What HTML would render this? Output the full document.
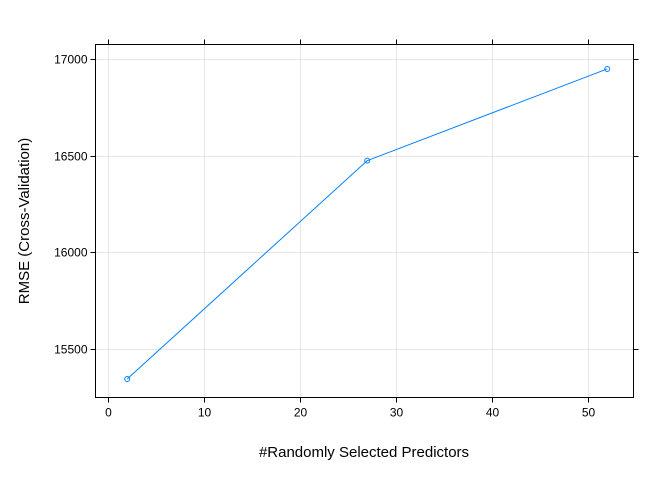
<!DOCTYPE html>
<html><head><meta charset="utf-8"><style>
body{margin:0;background:#fff}
svg{display:block;font-family:"Liberation Sans",Arial,sans-serif}
</style></head><body>
<svg id="chart" width="672" height="480" viewBox="0 0 672 480">
<g id="grid"></g>
<rect x="95.5" y="44.5" width="538" height="353" fill="none" stroke="#000" stroke-width="1"/>
<g id="axes"></g>
<g id="series"></g>
<text x="364" y="457" text-anchor="middle" font-size="15">#Randomly Selected Predictors</text>
<text transform="translate(29,221) rotate(-90)" text-anchor="middle" font-size="15">RMSE (Cross-Validation)</text>
</svg>
<script>
const predictors = [2, 27, 52];
const rmse = [15345, 16474, 16948];
const xTicks = [0, 10, 20, 30, 40, 50];
const yTicks = [15500, 16000, 16500, 17000];

const NS = "http://www.w3.org/2000/svg";
function xs(v){ return 108 + v * 9.6; }
function ys(v){ return 349 - (v - 15500) * (96.7 / 500); }
function mk(tag, attrs, parent){
  const e = document.createElementNS(NS, tag);
  for (const k in attrs) e.setAttribute(k, attrs[k]);
  parent.appendChild(e); return e;
}
const grid = document.getElementById('grid');
const axes = document.getElementById('axes');
const series = document.getElementById('series');
const L=95.5, R=633.5, T=44.5, B=397.5;

xTicks.forEach(t => {
  const x = Math.round(xs(t)) + 0.5;
  const g = mk('line', {x1:x, x2:x, y1:T, y2:B, stroke:'#e6e6e6'}, grid);
  
  
  const tb = mk('line', {x1:x, x2:x, y1:B, y2:B+5, stroke:'#000'}, axes);
  
  
  const tt = mk('line', {x1:x, x2:x, y1:T-5, y2:T, stroke:'#000'}, axes);
  
  
  const lb = mk('text', {x:x, y:B+19, 'text-anchor':'middle', 'font-size':'12'}, axes);
  lb.textContent = t;
  
  
});
yTicks.forEach(t => {
  const y = Math.round(ys(t)) + 0.5;
  const g = mk('line', {x1:L, x2:R, y1:y, y2:y, stroke:'#e6e6e6'}, grid);
  
  
  const tl = mk('line', {x1:L-5, x2:L, y1:y, y2:y, stroke:'#000'}, axes);
  
  
  const tr = mk('line', {x1:R, x2:R+5, y1:y, y2:y, stroke:'#000'}, axes);
  
  
  const lb = mk('text', {x:L-8, y:y+4, 'text-anchor':'end', 'font-size':'12'}, axes);
  lb.textContent = t;
  
  
});
const pts = predictors.map((p,i)=>xs(p)+','+ys(rmse[i])).join(' ');
const line = mk('polyline', {points:pts, fill:'none', stroke:'#0080ff', 'stroke-width':'1'}, series);


predictors.forEach((p,i)=>{
  const c = mk('circle', {cx:xs(p), cy:ys(rmse[i]), r:2.5, fill:'none', stroke:'#0080ff', 'stroke-width':'1'}, series);
  
  
});
</script>
</body></html>
